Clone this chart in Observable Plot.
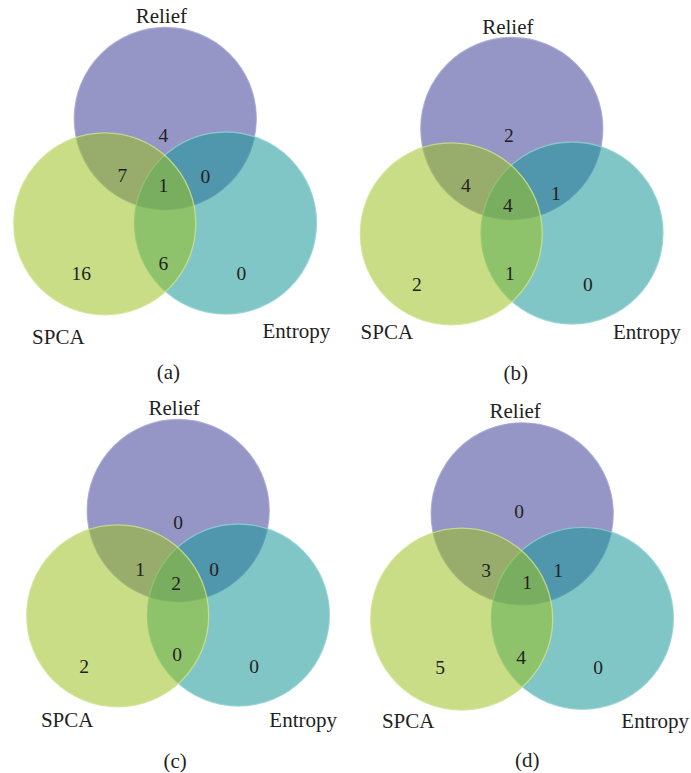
<!DOCTYPE html>
<html>
<head>
<meta charset="utf-8">
<script src="https://cdn.jsdelivr.net/npm/d3@7"></script>
<script src="https://cdn.jsdelivr.net/npm/@observablehq/plot@0.6"></script>
<style>
  html, body { margin: 0; padding: 0; background: #fff; }
  #chart { width: 691px; height: 773px; }
</style>
</head>
<body>
<div id="chart"></div>
<script>
// ---- data ----
const panels = ["(a)", "(b)", "(c)", "(d)"];
const sets = ["Relief", "Entropy", "SPCA"]; // drawing order (bottom to top)
const regions = ["R", "RS", "RSE", "RE", "S", "SE", "E"];
const countsA = [4, 7, 1, 0, 16, 6, 0];
const countsB = [2, 4, 4, 1, 2, 1, 0];
const countsC = [0, 1, 2, 0, 2, 0, 0];
const countsD = [0, 3, 1, 1, 5, 4, 0];
const counts = [countsA, countsB, countsC, countsD];

// ---- layout (pixel space) ----
const W = 691, H = 773, R = 91;
const origins = [[164.8, 118], [511.3, 128], [177.7, 510], [521.7, 513.3]]; // Relief centre per panel
const setOffset = {Relief: [0, 0], SPCA: [-60.5, 105.3], Entropy: [60.2, 104.5]};
const setStyle = {
  Relief:  {fill: "#9595c6", opacity: 1,    stroke: "#a3a3d0"},
  Entropy: {fill: "rgb(24,151,151)", opacity: 0.55, stroke: "#8fd0cf"},
  SPCA:    {fill: "rgb(155,193,33)", opacity: 0.55, stroke: "#cfe390"}
};
const regionOffsets = [
  [[-2, 17], [-43, 57], [-2, 67], [40, 58], [-84, 155], [-2, 145], [76, 155]],
  [[-3, 7], [-46, 57], [-4, 77], [44, 65], [-95, 156], [-2, 145], [76, 156]],
  [[0, 12], [-38, 59], [-2, 73], [36, 59], [-94, 156], [-1, 144], [76, 156]],
  [[-3, -2], [-36, 57], [5, 69], [36, 57], [-82, 154], [-1, 144], [76, 154]]
];
const labelOffsets = [
  {Relief: [-4, -102], SPCA: [-107, 218.5], Entropy: [131, 213], cap: [3, 254]},
  {Relief: [-4, -101], SPCA: [-125, 204], Entropy: [135, 204], cap: [4, 245]},
  {Relief: [-4, -102], SPCA: [-111, 210], Entropy: [125, 210], cap: [-3, 251]},
  {Relief: [-7, -103], SPCA: [-114, 207], Entropy: [133, 207], cap: [5, 246]}
];

// ---- build tables ----
const circles = [];
panels.forEach((p, i) => sets.forEach(s => {
  circles.push({panel: p, set: s, x: origins[i][0] + setOffset[s][0], y: origins[i][1] + setOffset[s][1]});
}));
const cells = [];
panels.forEach((p, i) => regions.forEach((r, j) => {
  cells.push({panel: p, region: r, value: counts[i][j],
    x: origins[i][0] + regionOffsets[i][j][0], y: origins[i][1] + regionOffsets[i][j][1]});
}));
const labels = [];
panels.forEach((p, i) => {
  ["Relief", "SPCA", "Entropy"].forEach(s => labels.push({text: s,
    x: origins[i][0] + labelOffsets[i][s][0], y: origins[i][1] + labelOffsets[i][s][1]}));
  labels.push({text: p, x: origins[i][0] + labelOffsets[i].cap[0], y: origins[i][1] + labelOffsets[i].cap[1]});
});

const font = "'Liberation Serif', 'DejaVu Serif', serif";
const circleMarks = sets.map(s => Plot.dot(circles.filter(d => d.set === s), {
  x: "x", y: "y", r: R,
  fill: setStyle[s].fill, fillOpacity: setStyle[s].opacity,
  stroke: setStyle[s].stroke, strokeWidth: 1.3, strokeOpacity: 0.8
}));

const chart = Plot.plot({
  width: W, height: H,
  margin: 0,
  x: {domain: [0, W], range: [0, W], axis: null},
  y: {domain: [0, H], range: [0, H], axis: null},
  style: {fontFamily: font, background: "white"},
  marks: [
    ...circleMarks,
    Plot.text(cells, {x: "x", y: "y", text: d => String(d.value), fontSize: 19.5, fill: "#231f20"}),
    Plot.text(labels, {x: "x", y: "y", text: "text", fontSize: 21, fill: "#231f20"})
  ]
});
document.getElementById("chart").appendChild(chart);
</script>
</body>
</html>
